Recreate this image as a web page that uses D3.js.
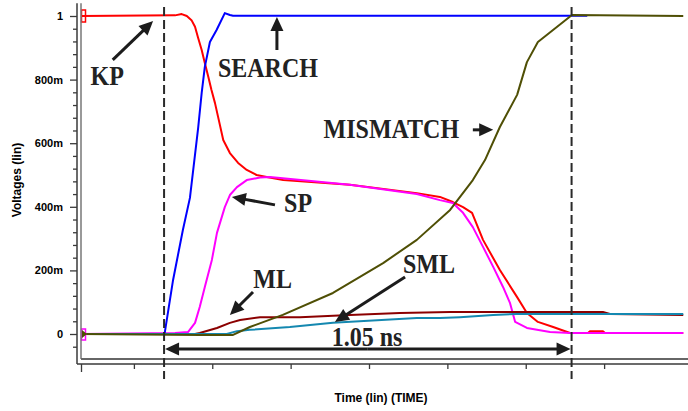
<!DOCTYPE html>
<html>
<head>
<meta charset="utf-8">
<script src="https://cdn.jsdelivr.net/npm/d3@7"></script>
<style>
  html, body { margin: 0; padding: 0; background: #fff; }
  svg { display: block; }
</style>
</head>
<body>
<svg id="chart"></svg>
<script>
// time in ns, voltage in V
const kpTime = [0.065, 0.305, 0.322, 0.335, 0.347, 0.356, 0.364, 0.373, 0.381, 0.390, 0.398, 0.407, 0.415, 0.428, 0.445, 0.466, 0.488, 0.513, 0.539, 0.581, 0.751, 0.922, 0.981, 1.014, 1.040, 1.063, 1.091, 1.134, 1.178, 1.203, 1.231, 1.270, 1.313, 1.359, 1.364, 1.397, 1.402, 1.602];
const kpVolt = [1.000, 1.002, 1.006, 1.000, 0.987, 0.966, 0.931, 0.893, 0.852, 0.808, 0.767, 0.726, 0.682, 0.610, 0.569, 0.538, 0.516, 0.500, 0.494, 0.484, 0.469, 0.443, 0.431, 0.415, 0.399, 0.381, 0.296, 0.201, 0.116, 0.066, 0.038, 0.022, 0.003, 0.003, 0.009, 0.009, 0.003, 0.003];

const spTime = [0.065, 0.305, 0.338, 0.356, 0.368, 0.381, 0.399, 0.412, 0.432, 0.445, 0.463, 0.488, 0.522, 0.547, 0.751, 0.922, 0.981, 1.014, 1.040, 1.065, 1.091, 1.117, 1.142, 1.160, 1.173, 1.203, 1.262, 1.313, 1.602];
const spVolt = [0, 0.003, 0.006, 0.035, 0.085, 0.148, 0.233, 0.318, 0.399, 0.437, 0.462, 0.484, 0.492, 0.494, 0.469, 0.440, 0.421, 0.412, 0.381, 0.336, 0.274, 0.211, 0.148, 0.097, 0.038, 0.019, 0.006, 0.003, 0.003];

const searchTime = [0.065, 0.277, 0.279, 0.300, 0.325, 0.343, 0.364, 0.373, 0.381, 0.394, 0.411, 0.432, 0.445, 0.453, 1.357];
const searchVolt = [0, 0, 0.006, 0.170, 0.327, 0.428, 0.648, 0.758, 0.840, 0.918, 0.956, 1.009, 1.003, 1.001, 1.001];

const mlTime = [0.065, 0.356, 0.368, 0.412, 0.445, 0.471, 0.522, 0.624, 0.751, 0.879, 1.007, 1.397, 1.415, 1.602];
const mlVolt = [0, 0, 0.003, 0.019, 0.035, 0.044, 0.053, 0.053, 0.060, 0.066, 0.069, 0.069, 0.063, 0.060];

const smlTime = [0.065, 0.437, 0.463, 0.496, 0.598, 0.708, 0.922, 0.981, 1.032, 1.117, 1.178, 1.602];
const smlVolt = [0, 0, 0.009, 0.013, 0.022, 0.035, 0.050, 0.050, 0.053, 0.060, 0.063, 0.063];

const mismatchTime = [0.065, 0.368, 0.453, 0.496, 0.580, 0.708, 0.836, 0.922, 1.007, 1.065, 1.096, 1.134, 1.178, 1.203, 1.231, 1.318, 1.602];
const mismatchVolt = [0, -0.003, -0.003, 0.022, 0.060, 0.129, 0.223, 0.296, 0.390, 0.484, 0.547, 0.651, 0.752, 0.855, 0.918, 1.003, 1.000];

const cursors = [0.277, 1.317];
const yMajor = [0, 0.2, 0.4, 0.6, 0.8, 1];
const yMinor = [-0.04, 0.04, 0.08, 0.12, 0.16, 0.24, 0.28, 0.32, 0.36, 0.44, 0.48, 0.52, 0.56, 0.64, 0.68, 0.72, 0.76, 0.84, 0.88, 0.92, 0.96];
const xTicks = [0.2, 0.4, 0.6, 0.8, 1.0, 1.2, 1.4];

// labels: text anchor (t, V), arrow tail and tip (t, V)
const notes = [
  { text: 'KP', at: [0.132, 0.783], from: [0.146, 0.862], to: [0.249, 0.984] },
  { text: 'SEARCH', at: [0.542, 0.808], from: [0.565, 0.893], to: [0.565, 0.997] },
  { text: 'MISMATCH', at: [0.857, 0.616], from: [1.065, 0.642], to: [1.117, 0.642] },
  { text: 'SP', at: [0.619, 0.384], from: [0.560, 0.406], to: [0.450, 0.431] },
  { text: 'ML', at: [0.554, 0.145], from: [0.504, 0.132], to: [0.445, 0.060] },
  { text: 'SML', at: [0.953, 0.192], from: [0.892, 0.179], to: [0.713, 0.038] }
];
const spanLabel = '1.05 ns';

const width = 688, height = 411;
const svg = d3.select('#chart').attr('width', width).attr('height', height);

const x = d3.scaleLinear().domain([0.065, 1.609]).range([81, 686]);
const y = d3.scaleLinear().domain([0, 1]).range([334, 16]);
const yTop = y(1.04), yBot = y(-0.079);

// traces
const series = [
  { t: kpTime, v: kpVolt, color: '#ff0000' },
  { t: spTime, v: spVolt, color: '#ff00ff' },
  { t: searchTime, v: searchVolt, color: '#0000ff' },
  { t: mlTime, v: mlVolt, color: '#8b0000' },
  { t: smlTime, v: smlVolt, color: '#1488b0' },
  { t: mismatchTime, v: mismatchVolt, color: '#4f4f05' }
];
const line = d3.line().x(d => x(d[0])).y(d => y(d[1]));

svg.append('g').selectAll('path')
  .data(series)
  .enter().append('path')
  .attr('d', s => line(s.t.map((t, i) => [t, s.v[i]])))
  .attr('fill', 'none')
  .attr('stroke', s => s.color)
  .attr('stroke-width', 2)
  .attr('stroke-linejoin', 'round');

// left edge markers
svg.append('rect').attr('x', 81.5).attr('y', y(1) - 6).attr('width', 4).attr('height', 12)
  .attr('fill', 'none').attr('stroke', '#ff0000').attr('stroke-width', 1.5);
svg.append('rect').attr('x', 81.5).attr('y', y(0) - 5).attr('width', 4).attr('height', 11)
  .attr('fill', 'none').attr('stroke', '#ff00ff').attr('stroke-width', 1.5);
svg.append('path').attr('d', `M82,${y(0) - 4}L87,${y(0)}L82,${y(0) + 4}Z`).attr('fill', '#4f4f05');

// frame and axes
const axisColor = '#3a3a3a';
svg.append('line').attr('x1', 81).attr('x2', 81).attr('y1', yTop).attr('y2', yBot)
  .attr('stroke', '#777').attr('stroke-width', 1.5);
svg.append('line').attr('x1', 81).attr('x2', width).attr('y1', yBot).attr('y2', yBot)
  .attr('stroke', '#666').attr('stroke-width', 2);
svg.append('line').attr('x1', 77).attr('x2', 77).attr('y1', yTop).attr('y2', 364)
  .attr('stroke', axisColor).attr('stroke-width', 1.5);
svg.append('line').attr('x1', 77).attr('x2', width).attr('y1', 364).attr('y2', 364)
  .attr('stroke', axisColor).attr('stroke-width', 1.5);

const fmt = v => v === 0 ? '0' : v === 1 ? '1' : Math.round(v * 1000) + 'm';

const yAxis = svg.append('g')
  .attr('transform', 'translate(77,0)')
  .call(d3.axisLeft(y).tickValues(yMajor).tickFormat(fmt).tickSize(7).tickSizeOuter(0).tickPadding(7));
const yMinorAxis = svg.append('g')
  .attr('transform', 'translate(77,0)')
  .call(d3.axisLeft(y).tickValues(yMinor).tickFormat('').tickSize(4).tickSizeOuter(0));
const xAxis = svg.append('g')
  .attr('transform', 'translate(0,364)')
  .call(d3.axisBottom(x).tickValues(xTicks).tickFormat('').tickSize(5).tickSizeOuter(0));
const xEdge = svg.append('g')
  .attr('transform', 'translate(0,364)')
  .call(d3.axisBottom(x).tickValues([0.065]).tickFormat('').tickSize(8).tickSizeOuter(0));

[yAxis, yMinorAxis, xAxis, xEdge].forEach(g => {
  g.select('.domain').remove();
  g.selectAll('line').attr('stroke', axisColor).attr('stroke-width', 1.3);
});
yAxis.selectAll('text')
  .attr('fill', '#000')
  .style('font', 'bold 11px "Liberation Sans", Arial, sans-serif');

svg.append('text')
  .attr('transform', 'translate(21,180) rotate(-90)')
  .attr('text-anchor', 'middle')
  .style('font', 'bold 12px "Liberation Sans", Arial, sans-serif')
  .text('Voltages (lin)');
svg.append('text')
  .attr('x', 381).attr('y', 402)
  .attr('text-anchor', 'middle')
  .style('font', 'bold 12px "Liberation Sans", Arial, sans-serif')
  .text('Time (lin) (TIME)');

// cursors
svg.append('g').selectAll('line')
  .data(cursors)
  .enter().append('line')
  .attr('x1', d => x(d)).attr('x2', d => x(d))
  .attr('y1', 7).attr('y2', 379)
  .attr('stroke', '#2a2a2a')
  .attr('stroke-width', 2)
  .attr('stroke-dasharray', '9,4');

// arrows
const ink = '#1c1c1c';
function arrow(p0, p1) {
  const ang = Math.atan2(p1[1] - p0[1], p1[0] - p0[0]);
  const len = 14, hw = 6.5;
  const bx = p1[0] - len * Math.cos(ang), by = p1[1] - len * Math.sin(ang);
  svg.append('line')
    .attr('x1', p0[0]).attr('y1', p0[1])
    .attr('x2', p1[0] - (len - 2) * Math.cos(ang)).attr('y2', p1[1] - (len - 2) * Math.sin(ang))
    .attr('stroke', ink).attr('stroke-width', 3);
  const nx = -Math.sin(ang) * hw, ny = Math.cos(ang) * hw;
  svg.append('path')
    .attr('d', `M${p1[0]},${p1[1]}L${bx + nx},${by + ny}L${bx - nx},${by - ny}Z`)
    .attr('fill', ink);
}

function label(txt, px, py) {
  svg.append('text')
    .attr('transform', `translate(${px},${py}) scale(1,1.15)`)
    .attr('text-anchor', 'middle')
    .attr('fill', '#222')
    .style('font', 'bold 24px "Liberation Serif", "Times New Roman", serif')
    .text(txt);
}

notes.forEach(n => {
  label(n.text, x(n.at[0]), y(n.at[1]));
  arrow([x(n.from[0]), y(n.from[1])], [x(n.to[0]), y(n.to[1])]);
});

// 1.05 ns span
const spanY = y(-0.047);
const mid = (x(cursors[0]) + x(cursors[1])) / 2;
arrow([mid, spanY], [x(cursors[0]) + 1, spanY]);
arrow([mid, spanY], [x(cursors[1]) - 1, spanY]);
label(spanLabel, x(0.795), y(-0.038));
</script>
</body>
</html>
